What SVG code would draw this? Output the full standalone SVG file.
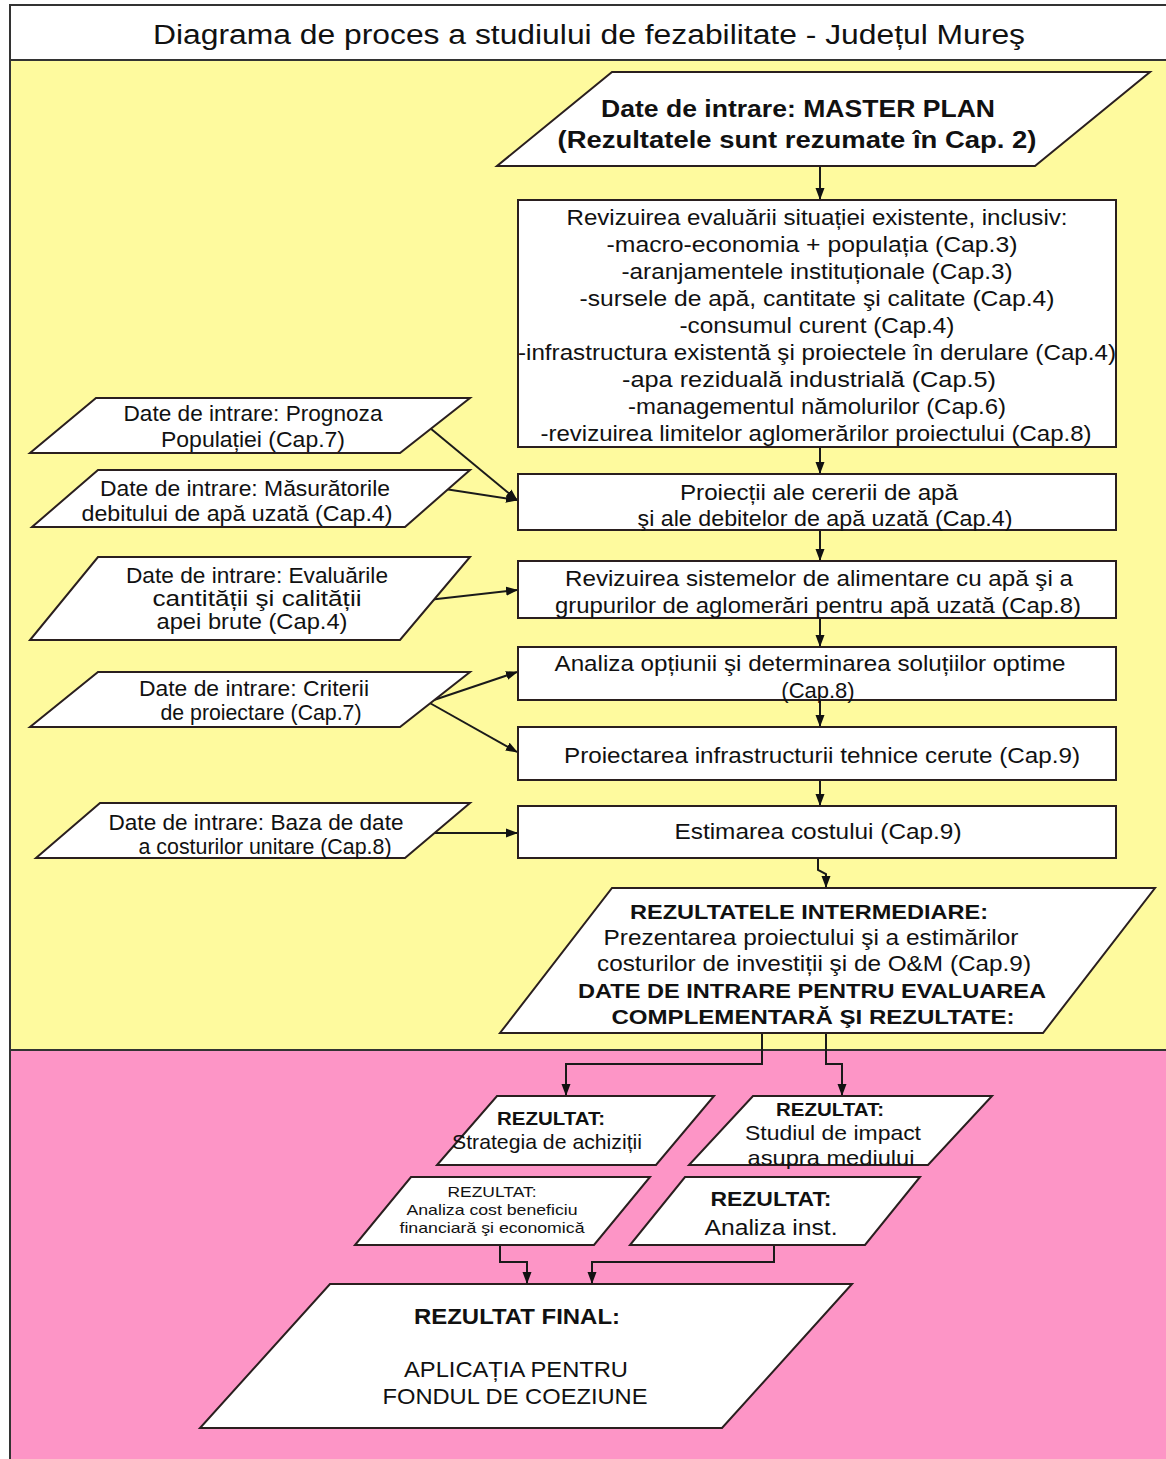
<svg xmlns="http://www.w3.org/2000/svg" width="1166" height="1459" viewBox="0 0 1166 1459">
<style>
.t{font-family:"Liberation Sans",Arial,sans-serif;fill:#111;text-anchor:middle}
.b{font-weight:bold}
.shape{fill:#fff;stroke:#2a1f1f;stroke-width:2}
.conn{fill:none;stroke:#1a1a1a;stroke-width:2}
.f22{font-size:22px}
.f21{font-size:21.5px}
</style>
<defs>
<marker id="ah" markerWidth="12" markerHeight="10" refX="11" refY="5" orient="auto" markerUnits="userSpaceOnUse">
<path d="M0,0.5 L12,5 L0,9.5 z" fill="#111"/>
</marker>
</defs>
<g id="background">
<rect x="10" y="5" width="1160" height="55" fill="#ffffff"/>
<rect x="10" y="60" width="1160" height="990" fill="#fefa9e"/>
<rect x="10" y="1050" width="1160" height="409" fill="#fd95c6"/>
<line x1="10" y1="60" x2="1166" y2="60" stroke="#333" stroke-width="2"/>
<line x1="10" y1="1050" x2="1166" y2="1050" stroke="#333" stroke-width="2"/>
<rect x="10" y="5" width="1160" height="1460" fill="none" stroke="#333" stroke-width="2"/>
<text class="t" x="589" y="44" font-size="27" textLength="872" lengthAdjust="spacingAndGlyphs">Diagrama de proces a studiului de fezabilitate - Județul Mureş</text>
</g>
<g id="connectors">
<path class="conn" d="M820,166 V199" marker-end="url(#ah)"/>
<path class="conn" d="M820,447 V473" marker-end="url(#ah)"/>
<path class="conn" d="M820,530 V560" marker-end="url(#ah)"/>
<path class="conn" d="M820,618 V646" marker-end="url(#ah)"/>
<path class="conn" d="M820,700 V726" marker-end="url(#ah)"/>
<path class="conn" d="M820,780 V805" marker-end="url(#ah)"/>
<path class="conn" d="M818,858 V870 L826,874 V887" marker-end="url(#ah)"/>
<path class="conn" d="M430,428 L517,500" marker-end="url(#ah)"/>
<path class="conn" d="M432,487 L517,500" marker-end="url(#ah)"/>
<path class="conn" d="M428,600 L517,590" marker-end="url(#ah)"/>
<path class="conn" d="M428,702 L517,672" marker-end="url(#ah)"/>
<path class="conn" d="M428,702 L517,752" marker-end="url(#ah)"/>
<path class="conn" d="M428,833 H517" marker-end="url(#ah)"/>
<path class="conn" d="M762,1033 V1064 H566 V1095" marker-end="url(#ah)"/>
<path class="conn" d="M826,1033 V1064 H842 V1095" marker-end="url(#ah)"/>
<path class="conn" d="M500,1245 V1262 H527 V1283" marker-end="url(#ah)"/>
<path class="conn" d="M774,1245 V1262 H592 V1283" marker-end="url(#ah)"/>
</g>
<g id="master-plan">
<polygon class="shape" points="612,72 1150,72 1035,166 497,166"/>
<text class="t b" x="798" y="117" font-size="23" textLength="394" lengthAdjust="spacingAndGlyphs">Date de intrare: MASTER PLAN</text>
<text class="t b" x="797" y="148" font-size="23" textLength="479" lengthAdjust="spacingAndGlyphs">(Rezultatele sunt rezumate în Cap. 2)</text>
</g>
<g id="box-existing">
<rect class="shape" x="518" y="200" width="598" height="247"/>
<text class="t f22" x="817" y="225" textLength="501" lengthAdjust="spacingAndGlyphs">Revizuirea evaluării situației existente, inclusiv:</text>
<text class="t f22" x="812" y="252" textLength="411" lengthAdjust="spacingAndGlyphs">-macro-economia + populația (Cap.3)</text>
<text class="t f22" x="817" y="279" textLength="391" lengthAdjust="spacingAndGlyphs">-aranjamentele instituționale (Cap.3)</text>
<text class="t f22" x="817" y="306" textLength="475" lengthAdjust="spacingAndGlyphs">-sursele de apă, cantitate şi calitate (Cap.4)</text>
<text class="t f22" x="817" y="333" textLength="275" lengthAdjust="spacingAndGlyphs">-consumul curent (Cap.4)</text>
<text class="t f22" x="817" y="360" textLength="598" lengthAdjust="spacingAndGlyphs">-infrastructura existentă şi proiectele în derulare (Cap.4)</text>
<text class="t f22" x="809" y="387" textLength="374" lengthAdjust="spacingAndGlyphs">-apa reziduală industrială (Cap.5)</text>
<text class="t f22" x="817" y="414" textLength="378" lengthAdjust="spacingAndGlyphs">-managementul nămolurilor (Cap.6)</text>
<text class="t f22" x="816" y="441" textLength="551" lengthAdjust="spacingAndGlyphs">-revizuirea limitelor aglomerărilor proiectului (Cap.8)</text>
</g>
<g id="box-projections">
<rect class="shape" x="518" y="474" width="598" height="56"/>
<text class="t f22" x="819" y="500" textLength="278" lengthAdjust="spacingAndGlyphs">Proiecții ale cererii de apă</text>
<text class="t f22" x="825" y="526" textLength="375" lengthAdjust="spacingAndGlyphs">şi ale debitelor de apă uzată (Cap.4)</text>
</g>
<g id="box-systems">
<rect class="shape" x="518" y="561" width="598" height="57"/>
<text class="t f22" x="819" y="586" textLength="508" lengthAdjust="spacingAndGlyphs">Revizuirea sistemelor de alimentare cu apă şi a</text>
<text class="t f22" x="818" y="613" textLength="526" lengthAdjust="spacingAndGlyphs">grupurilor de aglomerări pentru apă uzată (Cap.8)</text>
</g>
<g id="box-options">
<rect class="shape" x="518" y="647" width="598" height="53"/>
<text class="t f22" x="810" y="671" textLength="511" lengthAdjust="spacingAndGlyphs">Analiza opțiunii şi determinarea soluțiilor optime</text>
<text class="t f22" x="818" y="698">(Cap.8)</text>
</g>
<g id="box-design">
<rect class="shape" x="518" y="727" width="598" height="53"/>
<text class="t f22" x="822" y="763" textLength="516" lengthAdjust="spacingAndGlyphs">Proiectarea infrastructurii tehnice cerute (Cap.9)</text>
</g>
<g id="box-cost">
<rect class="shape" x="518" y="806" width="598" height="52"/>
<text class="t f22" x="818" y="839" textLength="287" lengthAdjust="spacingAndGlyphs">Estimarea costului (Cap.9)</text>
</g>
<g id="input-population">
<polygon class="shape" points="96,398 470,398 400,453 30,453"/>
<text class="t f21" x="253" y="421" textLength="259" lengthAdjust="spacingAndGlyphs">Date de intrare: Prognoza</text>
<text class="t f21" x="253" y="447" textLength="184" lengthAdjust="spacingAndGlyphs">Populației (Cap.7)</text>
</g>
<g id="input-measurements">
<polygon class="shape" points="98,470 470,470 405,527 32,527"/>
<text class="t f21" x="245" y="496" textLength="290" lengthAdjust="spacingAndGlyphs">Date de intrare: Măsurătorile</text>
<text class="t f21" x="237" y="521" textLength="311" lengthAdjust="spacingAndGlyphs">debitului de apă uzată (Cap.4)</text>
</g>
<g id="input-raw-water">
<polygon class="shape" points="98,557 470,557 400,640 30,640"/>
<text class="t f21" x="257" y="583" textLength="262" lengthAdjust="spacingAndGlyphs">Date de intrare: Evaluările</text>
<text class="t f21" x="257" y="606" textLength="209" lengthAdjust="spacingAndGlyphs">cantității şi calității</text>
<text class="t f21" x="252" y="629" textLength="191" lengthAdjust="spacingAndGlyphs">apei brute (Cap.4)</text>
</g>
<g id="input-criteria">
<polygon class="shape" points="98,672 470,672 400,727 30,727"/>
<text class="t f21" x="254" y="696" textLength="230" lengthAdjust="spacingAndGlyphs">Date de intrare: Criterii</text>
<text class="t f21" x="261" y="720" textLength="201" lengthAdjust="spacingAndGlyphs">de proiectare (Cap.7)</text>
</g>
<g id="input-unit-costs">
<polygon class="shape" points="100,803 470,803 405,858 36,858"/>
<text class="t f21" x="256" y="830" textLength="295" lengthAdjust="spacingAndGlyphs">Date de intrare: Baza de date</text>
<text class="t f21" x="265" y="854" textLength="253" lengthAdjust="spacingAndGlyphs">a costurilor unitare (Cap.8)</text>
</g>
<g id="intermediate-results">
<polygon class="shape" points="612,888 1155,888 1043,1033 500,1033"/>
<text class="t b" x="809" y="919" font-size="21" textLength="358" lengthAdjust="spacingAndGlyphs">REZULTATELE INTERMEDIARE:</text>
<text class="t f22" x="811" y="945" textLength="415" lengthAdjust="spacingAndGlyphs">Prezentarea proiectului şi a estimărilor</text>
<text class="t f22" x="814" y="971" textLength="434" lengthAdjust="spacingAndGlyphs">costurilor de investiții şi de O&amp;M (Cap.9)</text>
<text class="t b" x="812" y="998" font-size="21" textLength="468" lengthAdjust="spacingAndGlyphs">DATE DE INTRARE PENTRU EVALUAREA</text>
<text class="t b" x="813" y="1024" font-size="21" textLength="403" lengthAdjust="spacingAndGlyphs">COMPLEMENTARĂ ŞI REZULTATE:</text>
</g>
<g id="result-procurement">
<polygon class="shape" points="497,1096 714,1096 656,1165 437,1165"/>
<text class="t b" x="551" y="1125" font-size="19" textLength="108" lengthAdjust="spacingAndGlyphs">REZULTAT:</text>
<text class="t" x="547" y="1149" font-size="21" textLength="190" lengthAdjust="spacingAndGlyphs">Strategia de achiziții</text>
</g>
<g id="result-environment">
<polygon class="shape" points="753,1096 992,1096 928,1165 689,1165"/>
<text class="t b" x="830" y="1116" font-size="19" textLength="108" lengthAdjust="spacingAndGlyphs">REZULTAT:</text>
<text class="t" x="833" y="1140" font-size="21" textLength="176" lengthAdjust="spacingAndGlyphs">Studiul de impact</text>
<text class="t" x="831" y="1165" font-size="21" textLength="167" lengthAdjust="spacingAndGlyphs">asupra mediului</text>
</g>
<g id="result-cost-benefit">
<polygon class="shape" points="411,1177 650,1177 594,1245 355,1245"/>
<text class="t" x="492" y="1197" font-size="14.5" textLength="89" lengthAdjust="spacingAndGlyphs">REZULTAT:</text>
<text class="t" x="492" y="1215" font-size="15" textLength="171" lengthAdjust="spacingAndGlyphs">Analiza cost beneficiu</text>
<text class="t" x="492" y="1233" font-size="15" textLength="185" lengthAdjust="spacingAndGlyphs">financiară şi economică</text>
</g>
<g id="result-institutional">
<polygon class="shape" points="685,1177 920,1177 865,1245 630,1245"/>
<text class="t b" x="771" y="1206" font-size="21" textLength="121" lengthAdjust="spacingAndGlyphs">REZULTAT:</text>
<text class="t" x="771" y="1235" font-size="22" textLength="133" lengthAdjust="spacingAndGlyphs">Analiza inst.</text>
</g>
<g id="final-result">
<polygon class="shape" points="330,1284 852,1284 722,1428 200,1428"/>
<text class="t b" x="517" y="1324" font-size="22" textLength="206" lengthAdjust="spacingAndGlyphs">REZULTAT FINAL:</text>
<text class="t" x="516" y="1377" font-size="22" textLength="224" lengthAdjust="spacingAndGlyphs">APLICAȚIA PENTRU</text>
<text class="t" x="515" y="1404" font-size="22" textLength="265" lengthAdjust="spacingAndGlyphs">FONDUL DE COEZIUNE</text>
</g>
</svg>
